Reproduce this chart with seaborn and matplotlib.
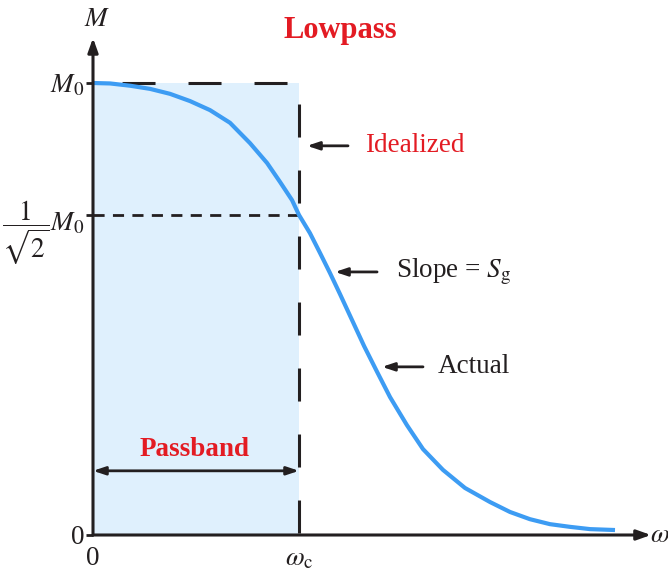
import matplotlib
matplotlib.use('Agg')
import matplotlib.pyplot as plt
import numpy as np
import seaborn as sns

# Frequency response (omega in units of omega_c, M in units of M0)
omega = [0.000, 0.083, 0.180, 0.277, 0.374, 0.471, 0.568, 0.665, 0.762, 0.845,
         0.908, 0.966, 1.000, 1.053, 1.102, 1.150, 1.199, 1.257, 1.316, 1.379,
         1.442, 1.524, 1.602, 1.699, 1.806, 1.927, 2.024, 2.121, 2.218, 2.316,
         2.413, 2.534]
mag = [1.000, 0.999, 0.994, 0.987, 0.976, 0.960, 0.940, 0.912, 0.867, 0.823,
       0.781, 0.741, 0.708, 0.668, 0.624, 0.580, 0.533, 0.476, 0.418, 0.361,
       0.305, 0.243, 0.190, 0.144, 0.104, 0.073, 0.051, 0.035, 0.024, 0.018,
       0.013, 0.011]

# Idealized response
ideal_x = [0.0, 1.0, 1.0]
ideal_y = [1.0, 1.0, -0.011]

ytick_vals = [0.0, 1 / np.sqrt(2), 1.0]
ytick_labels = ['0', r'$\dfrac{1}{\sqrt{2}}M_0$', r'$M_0$']
xtick_vals = [0.0, 1.0]
xtick_labels = ['0', r'$\omega_{\rm c}$']

sns.set_theme(style='white')
plt.rcParams['font.family'] = ['Liberation Serif', 'DejaVu Serif']
plt.rcParams['mathtext.fontset'] = 'stix'

RED = '#e31b23'
BLUE = '#3d9cf3'
INK = '#231f20'
FS = 19.5

fig = plt.figure(figsize=(6.68, 5.77), dpi=100)
ax = fig.add_axes([93 / 668, 42 / 577, 547 / 668, 497 / 577])
ax.set_xlim(0, 547 / 206)
ax.set_ylim(0, 497 / 452)

# Passband shading
ax.fill_between([0, 1], 0, 1, color='#dff0fd', lw=0, zorder=0)

# Idealized dashed boundary
ax.plot(ideal_x, ideal_y, color=INK, lw=2.2,
        linestyle=(12.1, (10.8, 10.8)), clip_on=False, zorder=2)
# Half-power level
ax.plot([0, 1], [ytick_vals[1]] * 2, color=INK, lw=2.0,
        linestyle=(0, (4, 3)), zorder=2)

# Actual response
sns.lineplot(x=omega, y=mag, ax=ax, color=BLUE, lw=3.0, zorder=3,
             solid_joinstyle='round', solid_capstyle='butt')

# Axes with arrows
for s in ax.spines.values():
    s.set_visible(False)
arrow_ax = dict(arrowstyle='-|>,head_length=0.7,head_width=0.25', lw=2.2,
                color=INK, shrinkA=0, shrinkB=0)
ax.annotate('', xy=(1.02, 0), xytext=(0, 0), xycoords='axes fraction',
            arrowprops=arrow_ax, annotation_clip=False)
ax.annotate('', xy=(0, 1.0), xytext=(0, 0), xycoords='axes fraction',
            arrowprops=arrow_ax, annotation_clip=False)

ax.set_yticks(ytick_vals)
ax.set_yticklabels(ytick_labels)
ax.set_xticks(xtick_vals)
ax.set_xticklabels(xtick_labels)
ax.tick_params(axis='y', direction='out', length=5, width=2, color=INK,
               pad=1, labelsize=FS, labelcolor=INK, left=True)
ax.tick_params(axis='x', length=0, pad=8, labelsize=FS, labelcolor=INK)
ax.grid(False)

ax.text(0.02, 1.14, r'$M$', fontsize=FS, color=INK, ha='center', va='center',
        clip_on=False)
ax.text(2.75, 0.0, r'$\omega$', fontsize=FS, color=INK, ha='center', va='center',
        clip_on=False)

ax.text(1.20, 1.117, 'Lowpass', fontsize=22, fontweight='bold', color=RED,
        ha='center', va='center', clip_on=False)

arrow_lbl = dict(arrowstyle='-|>,head_length=0.6,head_width=0.2', lw=2.0,
                 color=INK, shrinkA=0, shrinkB=0)
notes = [
    ('Idealized', 1.320, 0.861, 1.238, 1.039, RED),
    (r'Slope = $S_{\rm g}$', 1.471, 0.582, 1.379, 1.175, INK),
    ('Actual', 1.675, 0.372, 1.602, 1.403, INK),
]
for label, tx, ty, ax0, ax1, col in notes:
    ax.annotate('', xy=(ax1, ty), xytext=(ax0, ty), arrowprops=arrow_lbl)
    ax.text(tx, ty, label, fontsize=FS, color=col, ha='left', va='center')

# Passband
ax.annotate('', xy=(1.0, 0.142), xytext=(0.0, 0.142),
            arrowprops=dict(arrowstyle='<|-|>,head_length=0.6,head_width=0.2',
                            lw=2.0, color=INK, shrinkA=0, shrinkB=0))
ax.text(0.495, 0.19, 'Passband', fontsize=FS, fontweight='bold', color=RED,
        ha='center', va='center')

fig.savefig('out.png', dpi=100)
